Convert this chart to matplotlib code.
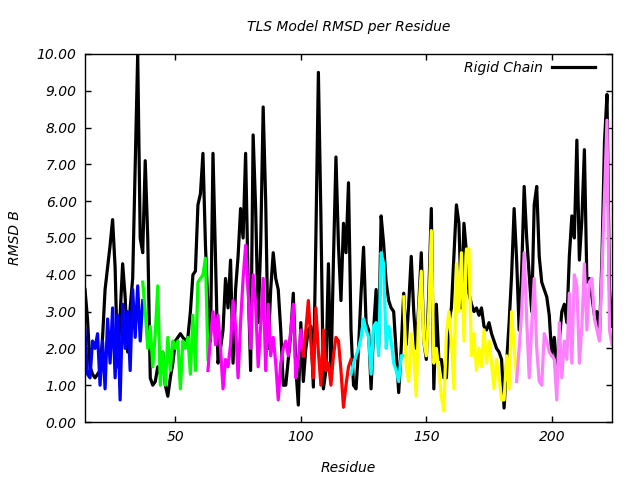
import numpy as np
import matplotlib
matplotlib.use("Agg")
import matplotlib.pyplot as plt
from matplotlib.ticker import FormatStrFormatter

# rigid chain RMSD, residues 14..224
rigid_start = 14
rigid = [
    3.6, 2.8, 1.5, 1.3, 1.2, 1.3, 1.4, 2.3, 3.6, 4.2,
    4.8, 5.5, 4.2, 1.5, 2.9, 4.3, 3.4, 1.9, 3.1, 3.9,
    6.9, 10.0, 5.0, 4.6, 7.1, 5.0, 1.2, 1.0, 1.1, 1.5,
    1.3, 1.9, 1.0, 0.7, 1.2, 1.6, 2.2, 2.3, 2.4, 2.3,
    2.2, 2.3, 3.0, 4.0, 4.1, 5.9, 6.2, 7.3, 4.8, 3.1,
    2.2, 7.3, 4.5, 1.6, 2.0, 2.5, 3.9, 3.1, 4.4, 1.6,
    3.6, 4.5, 5.8, 5.0, 7.3, 3.8, 1.4, 7.8, 5.8, 2.7,
    4.8, 8.56, 6.0, 2.0, 3.6, 4.6, 3.9, 3.6, 2.5, 1.0,
    1.0, 1.7, 2.4, 3.5, 1.5, 0.46, 2.7, 1.1, 2.0, 2.5,
    2.6, 0.95, 5.0, 9.5, 5.6, 0.9, 1.4, 4.3, 1.2, 4.4,
    7.2, 4.8, 3.3, 5.4, 4.6, 6.5, 2.5, 1.0, 0.9, 2.0,
    3.5, 4.75, 2.7, 2.5, 0.9, 2.5, 3.6, 2.0, 5.6, 4.85,
    3.8, 3.3, 3.1, 3.0, 1.9, 0.8, 2.0, 3.5, 2.1, 3.2,
    4.5, 3.0, 2.0, 3.2, 4.6, 2.2, 1.7, 3.5, 5.8, 0.9,
    3.2, 1.7, 1.7, 1.2, 1.2, 2.7, 3.1, 4.5, 5.9, 5.4,
    3.1, 5.4, 4.6, 3.5, 3.2, 3.0, 3.1, 2.9, 3.1, 2.6,
    2.5, 2.7, 2.4, 2.2, 2.0, 1.9, 1.7, 0.38, 1.6, 2.7,
    4.0, 5.8, 4.4, 2.5, 4.1, 6.4, 5.0, 4.0, 3.0, 5.9,
    6.4, 4.5, 3.8, 3.6, 3.4, 2.9, 1.8, 2.3, 1.5, 2.2,
    3.0, 3.2, 2.7, 4.5, 5.6, 5.0, 7.66, 4.4, 5.5, 7.4,
    3.8, 3.9, 3.4, 2.9, 3.0, 2.3, 4.5, 7.6, 8.9, 3.6,
    2.6,
]

# TLS group segments (first residue + values)
tls_starts = [14, 37, 63, 101, 120, 141, 186]
tls_colors = ["#0000ff", "#00ff00", "#ff00ff", "#ff0000", "#00ffff", "#ffff00", "#ff80ff"]
blue = [2.5, 1.3, 1.2, 2.2, 2.0, 2.4, 1.0, 2.2, 0.9, 2.8, 1.6, 3.1, 1.2, 2.9, 0.6,
        3.2, 2.0, 3.0, 1.4, 3.6, 2.3, 3.7, 2.2, 3.3]
green = [3.8, 3.0, 2.0, 2.6, 1.5, 2.4, 3.7, 1.0, 1.9, 1.0, 2.3, 1.4, 2.2, 2.0, 2.2,
         0.9, 2.2, 2.0, 2.3, 1.3, 2.9, 1.4, 3.8, 3.9, 4.0, 4.45, 1.7]
magenta = [1.4, 2.3, 3.0, 2.1, 2.9, 2.0, 0.9, 1.7, 1.5, 2.1, 3.3, 2.6, 1.2, 2.7, 3.9,
           4.8, 3.6, 2.0, 4.0, 3.2, 1.5, 2.6, 3.9, 1.4, 3.2, 1.8, 2.3, 1.6, 0.6, 1.6,
           2.0, 2.2, 1.8, 2.5, 3.2, 1.2, 1.7, 2.5, 1.8]
red = [1.8, 2.5, 3.3, 2.2, 1.2, 3.1, 1.9, 1.0, 2.5, 1.4, 1.6, 1.0, 1.8, 2.3, 2.2,
       1.4, 0.4, 1.0, 1.5, 1.7]
cyan = [1.3, 1.6, 1.8, 2.0, 2.3, 2.8, 2.5, 2.3, 1.3, 2.6, 2.7, 1.8, 4.6, 4.3, 2.0,
        2.6, 2.2, 1.6, 1.4, 1.1, 1.8, 1.8]
yellow = [3.4, 1.5, 1.1, 2.4, 1.8, 0.7, 3.0, 4.1, 2.2, 1.8, 3.0, 5.2, 1.6, 2.0, 1.4,
          0.7, 0.3, 2.4, 3.0, 2.2, 0.9, 4.3, 3.0, 4.6, 2.2, 4.7, 4.7, 1.8, 2.4, 1.4,
          2.0, 1.5, 2.5, 1.6, 2.2, 1.6, 0.9, 1.7, 1.2, 0.6, 0.6, 1.8, 0.9, 3.0, 2.0, 1.2]
violet = [1.1, 2.0, 3.0, 4.6, 2.8, 1.2, 2.6, 3.9, 2.0, 1.1, 1.0, 2.4, 2.2, 1.9, 1.8,
          1.7, 0.6, 2.7, 1.2, 2.2, 1.7, 3.5, 1.6, 4.0, 3.7, 1.6, 2.6, 4.3, 2.5, 3.8,
          3.9, 2.8, 2.5, 2.2, 4.1, 6.1, 8.2, 2.5, 2.1]
tls_groups = [blue, green, magenta, red, cyan, yellow, violet]

font = dict(family="DejaVu Sans", style="italic", size=10)

fig = plt.figure(figsize=(6.4, 4.8), dpi=100)
ax = fig.add_axes([85 / 640, 58 / 480, 527 / 640, 368 / 480])

x = np.arange(rigid_start, rigid_start + len(rigid))
ax.plot(x, rigid, color="black", lw=2.3, label="Rigid Chain")
for start, vals, col in zip(tls_starts, tls_groups, tls_colors):
    xs = np.arange(start, start + len(vals))
    ax.plot(xs, vals, color=col, lw=2.3)

ax.set_xlim(14, 224)
ax.set_ylim(0, 10)
ax.set_xticks([50, 100, 150, 200])
ax.set_yticks(np.arange(0, 11, 1))
ax.yaxis.set_major_formatter(FormatStrFormatter("%.2f"))
ax.tick_params(direction="in", length=4, width=1, top=True, right=True, pad=6)
for lab in ax.get_xticklabels() + ax.get_yticklabels():
    lab.set_fontstyle("italic")
    lab.set_fontsize(10)
for sp in ax.spines.values():
    sp.set_linewidth(1)

ax.set_xlabel("Residue", **font)
ax.set_ylabel("RMSD B", **font)
ax.xaxis.set_label_coords(0.5, -0.106)
ax.yaxis.set_label_coords(-0.120, 0.5)
ax.text(0.5, 1.073, "TLS Model RMSD per Residue", transform=ax.transAxes,
        ha="center", va="center", **font)

leg = ax.legend(loc="upper right", bbox_to_anchor=(1 - 7 / 527, 1 + 3 / 368),
                frameon=False, markerfirst=False,
                handlelength=3.1, handletextpad=0.65, borderaxespad=0.3,
                prop=dict(family="DejaVu Sans", style="italic", size=10))

fig.savefig("out.png", dpi=100)
